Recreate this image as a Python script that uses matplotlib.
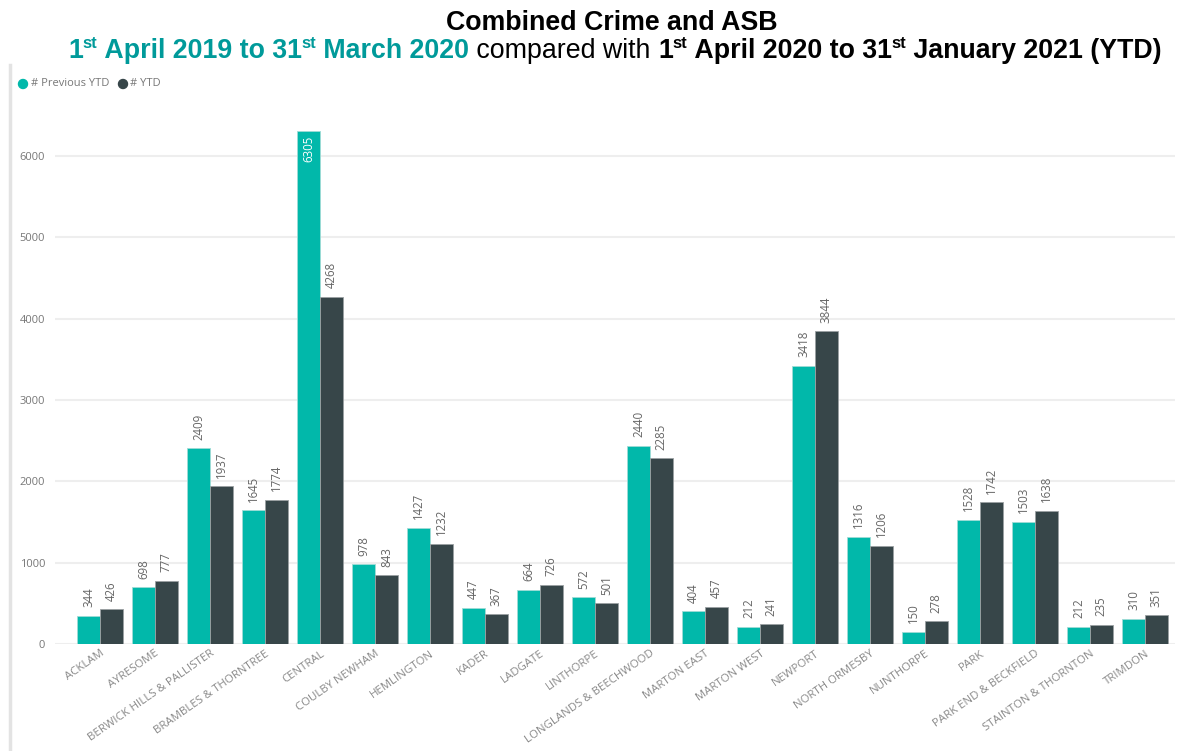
import matplotlib
matplotlib.use("Agg")
import matplotlib.pyplot as plt
import numpy as np

categories = ["ACKLAM", "AYRESOME", "BERWICK HILLS & PALLISTER", "BRAMBLES & THORNTREE",
              "CENTRAL", "COULBY NEWHAM", "HEMLINGTON", "KADER", "LADGATE", "LINTHORPE",
              "LONGLANDS & BEECHWOOD", "MARTON EAST", "MARTON WEST", "NEWPORT",
              "NORTH ORMESBY", "NUNTHORPE", "PARK", "PARK END & BECKFIELD",
              "STAINTON & THORNTON", "TRIMDON"]
previous_ytd = [344, 698, 2409, 1645, 6305, 978, 1427, 447, 664, 572,
                2440, 404, 212, 3418, 1316, 150, 1528, 1503, 212, 310]
ytd = [426, 777, 1937, 1774, 4268, 843, 1232, 367, 726, 501,
       2285, 457, 241, 3844, 1206, 278, 1742, 1638, 235, 351]
y_ticks = [0, 1000, 2000, 3000, 4000, 5000, 6000]

TEAL = "#01B8AA"
DARK = "#374649"
TITLE_TEAL = "#009a9a"

W, H = 1184, 751
fig = plt.figure(figsize=(W / 100, H / 100), dpi=100)

# plot area in pixels
left_px, right_px, bottom_px, top_px = 55, 1175, 644, 104
ax = fig.add_axes([left_px / W, 1 - bottom_px / H, (right_px - left_px) / W, (bottom_px - top_px) / H])

n = len(categories)
x = np.arange(n)
spacing = (1145 - 100) / (n - 1)
x0 = -(100 - left_px) / spacing
x1 = x0 + (right_px - left_px) / spacing
ax.set_xlim(x0, x1)
ymax = (bottom_px - top_px) / 81.33 * 1000
ax.set_ylim(0, ymax)

bw = 0.415
ax.bar(x - bw / 2, previous_ytd, width=bw, color=TEAL, edgecolor="#a0dcd6", linewidth=0.6, zorder=3)
ax.bar(x + bw / 2, ytd, width=bw, color=DARK, edgecolor="#9aa0a2", linewidth=0.6, zorder=3)

label_kw = dict(rotation=90, ha="center", fontsize=8.3, family="Open Sans", color="#666666")
for xi, v in zip(x - bw / 2, previous_ytd):
    if v > ymax * 0.9:
        ax.text(xi, v - 60, str(v), va="top", **{**label_kw, "color": "white"})
    else:
        ax.text(xi, v + 105, str(v), va="bottom", **label_kw)
for xi, v in zip(x + bw / 2, ytd):
    ax.text(xi, v + 105, str(v), va="bottom", **label_kw)

ax.set_yticks(y_ticks)
ax.set_yticklabels([str(t) for t in y_ticks], fontsize=8, family="Open Sans", color="#777777")
ax.set_xticks(x)
ax.set_xticklabels(categories, rotation=35, ha="right", rotation_mode="anchor",
                   fontsize=8.2, family="Open Sans", color="#888888")
ax.tick_params(axis="both", length=0)
ax.tick_params(axis="x", pad=3)
ax.tick_params(axis="y", pad=7)
ax.grid(axis="y", color="#eeeeee", linewidth=1.5, zorder=0)
for s in ax.spines.values():
    s.set_visible(False)

# left border line of the visual
fig.add_artist(plt.Line2D([10 / W, 10 / W], [0, 1 - 65 / H], color="#e3e3e3", linewidth=2.5))

# legend
fig.add_artist(matplotlib.patches.Ellipse((23 / W, 1 - 84 / H), 9 / W, 9 / H, color=TEAL))
fig.text(31 / W, 1 - 84 / H, "# Previous YTD", color="#777777", fontsize=8, ha="left", va="center", family="Open Sans")
fig.add_artist(matplotlib.patches.Ellipse((123 / W, 1 - 84 / H), 9 / W, 9 / H, color=DARK))
fig.text(130 / W, 1 - 84 / H, "# YTD", color="#777777", fontsize=8, ha="left", va="center", family="Open Sans")

# titles
renderer = fig.canvas.get_renderer()


def draw_line(pieces, center_px, baseline_px, size):
    # pieces: (text, color, weight, superscript)
    texts = []
    for txt, color, weight, sup in pieces:
        fs = size * 0.62 if sup else size
        t = fig.text(0, 0, txt, color=color, fontweight=weight, fontsize=fs,
                     family="Liberation Sans", ha="left", va="baseline")
        texts.append((t, sup))
    widths = [t.get_window_extent(renderer).width for t, _ in texts]
    total = sum(widths)
    cur = center_px - total / 2
    for (t, sup), w in zip(texts, widths):
        yb = baseline_px - (size * 100 / 72 * 0.36 if sup else 0)
        t.set_position((cur / W, 1 - yb / H))
        cur += w


draw_line([("Combined Crime and ASB", "black", "bold", False)], 612, 30, 19.3)
draw_line([
    ("1", TITLE_TEAL, "bold", False), ("st", TITLE_TEAL, "bold", True),
    (" April 2019 to 31", TITLE_TEAL, "bold", False), ("st", TITLE_TEAL, "bold", True),
    (" March 2020", TITLE_TEAL, "bold", False),
    (" compared with ", "black", "normal", False),
    ("1", "black", "bold", False), ("st", "black", "bold", True),
    (" April 2020 to 31", "black", "bold", False), ("st", "black", "bold", True),
    (" January 2021 (YTD)", "black", "bold", False),
], 615, 58, 19.3)

fig.savefig("out.png", dpi=100)
